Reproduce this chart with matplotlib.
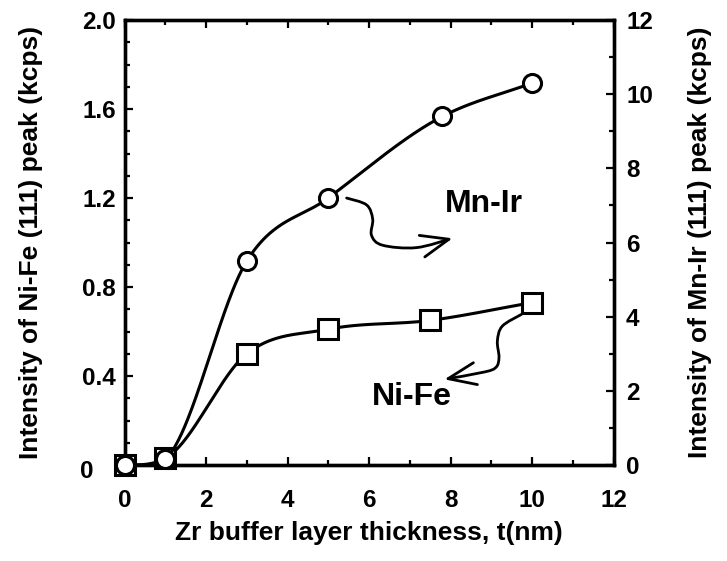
import numpy as np
import matplotlib
matplotlib.use("Agg")
import matplotlib.pyplot as plt
from matplotlib.path import Path
from matplotlib.patches import FancyArrowPatch
from matplotlib.ticker import MultipleLocator, FixedLocator, FixedFormatter
from matplotlib.transforms import ScaledTranslation

# data
nife_t = [0, 1, 3, 5, 7.5, 10]
nife_int = [0, 0.03, 0.50, 0.61, 0.65, 0.73]      # kcps, left axis
mnir_t = [0, 1, 3, 5, 7.8, 10]
mnir_int = [0, 0.15, 5.5, 7.2, 9.4, 10.3]         # kcps, right axis

x_ticks = [0, 2, 4, 6, 8, 10, 12]
left_ticks = [0, 0.4, 0.8, 1.2, 1.6, 2.0]
left_labels = ['0', '0.4', '0.8', '1.2', '1.6', '2.0']
right_ticks = [0, 2, 4, 6, 8, 10, 12]

plt.rcParams['font.family'] = ['Liberation Sans', 'DejaVu Sans']
plt.rcParams['font.weight'] = 'bold'


def smooth_curve(x, y, xs):
    # cubic hermite guide line, slopes from np.gradient, flat start
    x = np.asarray(x, float)
    y = np.asarray(y, float)
    m = np.gradient(y, x)
    m[0] = 0.0
    h = np.diff(x)
    out = np.empty_like(xs)
    for i, xv in enumerate(xs):
        k = int(np.clip(np.searchsorted(x, xv, side='right') - 1, 0, len(x) - 2))
        t = (xv - x[k]) / h[k]
        h00 = 1 - 3 * t**2 + 2 * t**3
        h10 = t - 2 * t**2 + t**3
        h01 = 3 * t**2 - 2 * t**3
        h11 = t**3 - t**2
        out[i] = h00 * y[k] + h10 * h[k] * m[k] + h01 * y[k + 1] + h11 * h[k] * m[k + 1]
    return np.clip(out, 0, None)


def smooth_path(pts):
    # catmull-rom through the points, as bezier segments
    pts = np.asarray(pts, float)
    verts = [pts[0]]
    codes = [Path.MOVETO]
    n = len(pts)
    for i in range(n - 1):
        p0 = pts[max(i - 1, 0)]
        p1 = pts[i]
        p2 = pts[i + 1]
        p3 = pts[min(i + 2, n - 1)]
        verts += [p1 + (p2 - p0) / 6, p2 - (p3 - p1) / 6, p2]
        codes += [Path.CURVE4] * 3
    return Path(verts, codes)


fig = plt.figure(figsize=(7.27, 5.61), dpi=100)
ax = fig.add_axes([0.1713, 0.1711, 0.6726, 0.7932])
ax2 = ax.twinx()

lw = 2.2
xs = np.linspace(0, 10, 400)

ax.plot(xs, smooth_curve(nife_t, nife_int, xs), color='black', lw=lw, zorder=2)
ax.plot(nife_t, nife_int, 's', ms=14.5, mfc='white', mec='black', mew=2.2,
        clip_on=False, zorder=3)

ax2.plot(xs, smooth_curve(mnir_t, mnir_int, xs), color='black', lw=lw, zorder=2)
ax2.plot(mnir_t, mnir_int, 'o', ms=13, mfc='white', mec='black', mew=2.2,
         clip_on=False, zorder=3)

ax.set_xlim(0, 12)
ax.set_ylim(0, 2.0)
ax2.set_ylim(0, 12)

ax.xaxis.set_major_locator(FixedLocator(x_ticks))
ax.xaxis.set_minor_locator(MultipleLocator(1))
ax.yaxis.set_major_locator(FixedLocator(left_ticks))
ax.yaxis.set_major_formatter(FixedFormatter(left_labels))
ax.yaxis.set_minor_locator(MultipleLocator(0.1))
ax2.yaxis.set_major_locator(FixedLocator(right_ticks))
ax2.yaxis.set_minor_locator(MultipleLocator(1))

ax.tick_params(which='both', direction='in', top=True, right=False, width=1.6)
ax.tick_params(which='major', length=6, labelsize=17.5)
ax.tick_params(which='minor', length=3.5)
ax.tick_params(axis='y', which='major', pad=6)
ax.tick_params(axis='x', which='major', pad=17)
ax2.tick_params(which='both', direction='in', width=1.6)
ax2.tick_params(which='major', length=6, labelsize=17.5, pad=9)
ax2.tick_params(which='minor', length=3.5)

for a in (ax, ax2):
    for s in a.spines.values():
        s.set_linewidth(2.4)

ax.set_xlabel('Zr buffer layer thickness, t(nm)', fontsize=19, fontweight='bold')
ax.set_ylabel('Intensity of Ni-Fe (111) peak (kcps)', fontsize=19, fontweight='bold')
ax2.set_ylabel('Intensity of Mn-Ir (111) peak (kcps)', fontsize=19, fontweight='bold')
ax.xaxis.set_label_coords(0.5, -0.125)
ax.yaxis.set_label_coords(-0.166, 0.5)
ax2.yaxis.set_label_coords(1.153, 0.5)

# the "0" on the left axis sits further out, clear of the marker
zero_lab = ax.yaxis.get_major_ticks()[0].label1
zero_lab.set_transform(zero_lab.get_transform()
                       + ScaledTranslation(-16 / 72, -3 / 72, fig.dpi_scale_trans))

# curly annotation arrows
mnir_arrow = [(5.45, 1.20), (5.94, 1.169), (6.09, 1.105), (6.06, 1.033),
              (6.33, 0.988), (7.16, 0.977), (8.05, 1.019)]
nife_arrow = [(9.74, 0.677), (9.27, 0.624), (9.15, 0.557), (9.19, 0.485),
              (9.12, 0.44), (8.83, 0.418), (7.85, 0.385)]
for pts in (mnir_arrow, nife_arrow):
    arr = FancyArrowPatch(path=smooth_path(pts),
                          arrowstyle='->,head_length=1.0,head_width=0.4',
                          lw=2.0, color='black', mutation_scale=20)
    ax.add_patch(arr)

ax.text(8.83, 1.174, 'Mn-Ir', fontsize=23, fontweight='bold', ha='center', va='center')
ax.text(7.04, 0.307, 'Ni-Fe', fontsize=23, fontweight='bold', ha='center', va='center')

fig.savefig('out.png', dpi=100)
